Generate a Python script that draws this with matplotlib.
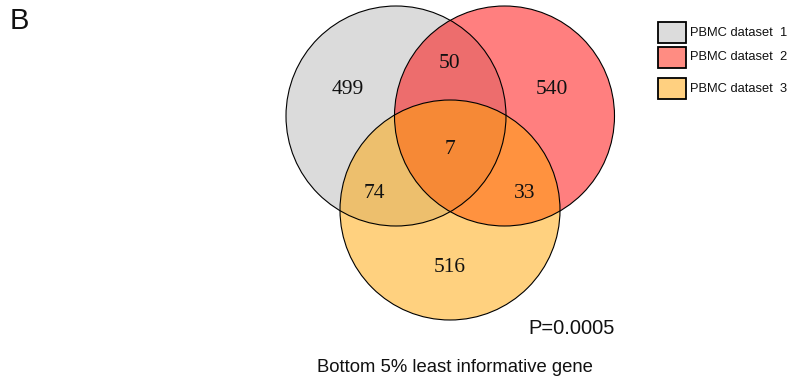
import matplotlib
matplotlib.use("Agg")
import matplotlib.pyplot as plt
from matplotlib.patches import Circle, Rectangle

# Gene-set overlap counts for the three PBMC datasets
set_names = ["PBMC dataset  1", "PBMC dataset  2", "PBMC dataset  3"]
region_labels = ["1", "2", "3", "12", "13", "23", "123"]
region_counts = [499, 540, 516, 50, 74, 33, 7]
p_value = "P=0.0005"
caption = "Bottom 5% least informative gene"
panel_tag = "B"

# Fill colours (drawn semi-transparent so overlaps blend)
fill_colors = ["#B9B9B9", "#FF0000", "#FFA500"]
legend_colors = ["#DCDCDC", "#FF8C82", "#FFD080"]

W, H = 792, 379
fig = plt.figure(figsize=(W / 100, H / 100), dpi=100)
ax = fig.add_axes([0, 0, 1, 1])
ax.set_xlim(0, W)
ax.set_ylim(H, 0)
ax.set_aspect("equal")
ax.axis("off")

r = 110
centers = [(396, 116), (504.5, 116), (450, 210)]

for (cx, cy), col in zip(centers, fill_colors):
    ax.add_patch(Circle((cx, cy), r, facecolor=col, alpha=0.5, edgecolor="none"))
for (cx, cy) in centers:
    ax.add_patch(Circle((cx, cy), r, facecolor="none", edgecolor="black", lw=0.8))

label_pos = {
    "1": (348, 90), "2": (552, 90), "3": (450, 268),
    "12": (450, 63), "13": (374, 194), "23": (525, 194), "123": (450, 149),
}
serif = ["Liberation Serif", "DejaVu Serif"]
for key, n in zip(region_labels, region_counts):
    x, y = label_pos[key]
    ax.text(x, y, str(n), ha="center", va="center", fontsize=15.5,
            family=serif, color="#111111")

sans = ["Liberation Sans", "DejaVu Sans"]
ax.text(528, 328, p_value, ha="left", va="center", fontsize=14.5,
        family=sans, color="#111111")
ax.text(455, 367, caption, ha="center", va="center", fontsize=13.3,
        family=sans, color="#111111")
ax.text(10, 21, panel_tag, ha="left", va="center", fontsize=21,
        family=sans, color="#111111")

# Legend
box_tops = [22, 47, 78]
for top, name, col in zip(box_tops, set_names, legend_colors):
    ax.add_patch(Rectangle((658, top), 28, 21, facecolor=col,
                           edgecolor="black", lw=1.3))
    ax.text(690, top + 10.5, name, ha="left", va="center", fontsize=9.3,
            family=sans, color="#111111")

fig.savefig("out.png", dpi=100)
